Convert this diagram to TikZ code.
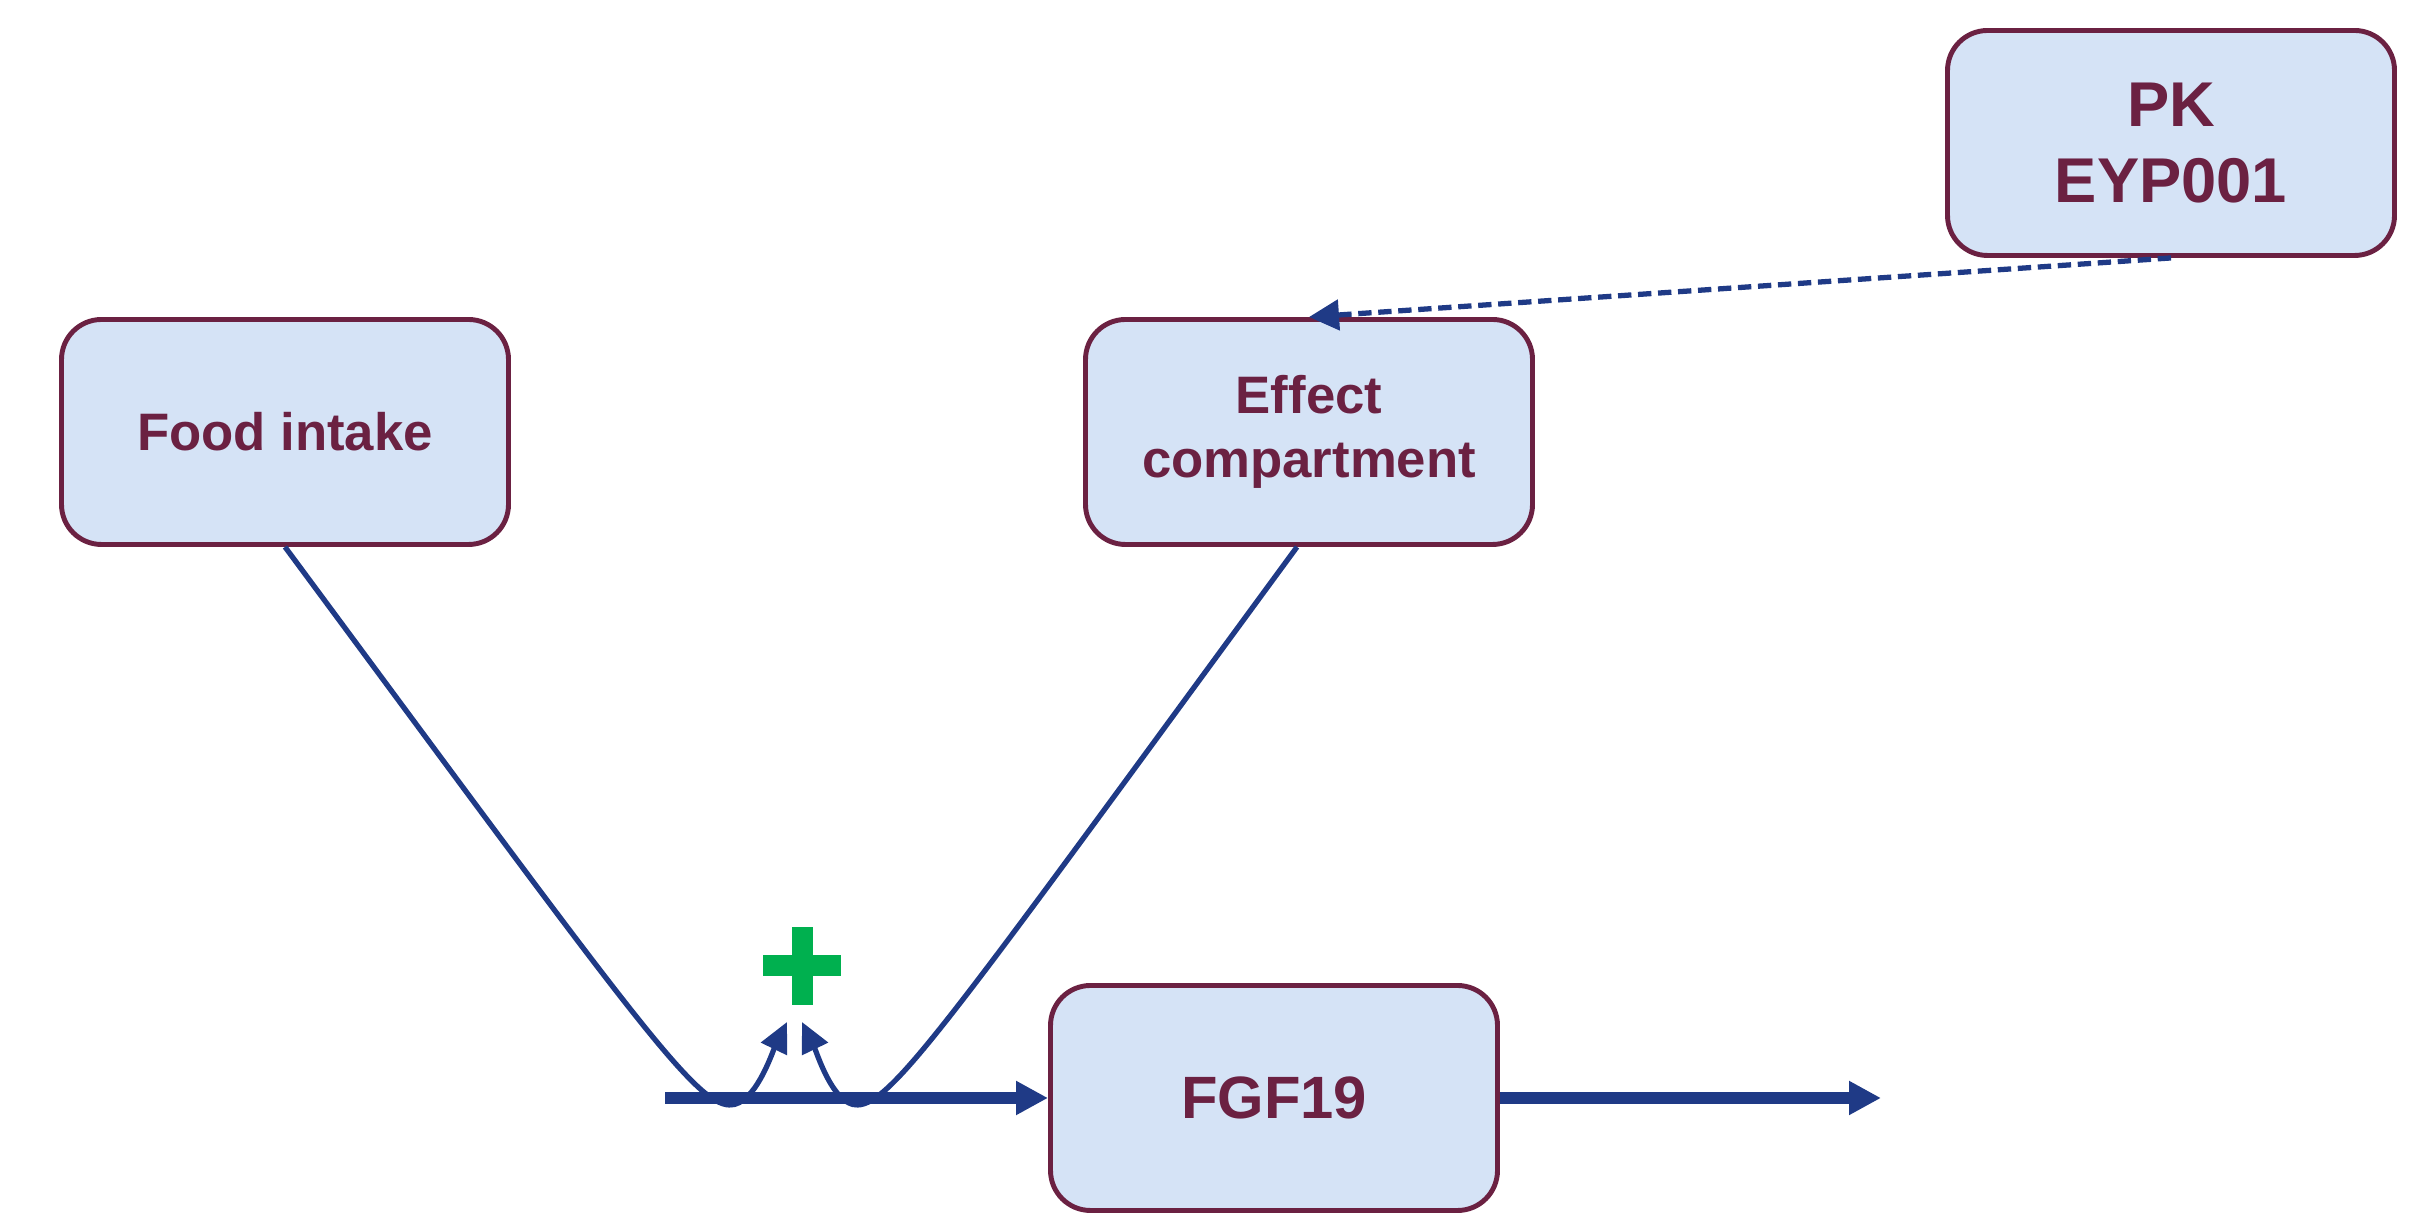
\documentclass[tikz,border=0pt]{standalone}
\usepackage{fontspec}
\setmainfont{Liberation Sans}
\usetikzlibrary{arrows.meta,positioning}
\definecolor{boxfill}{HTML}{D5E3F6}
\definecolor{boxline}{HTML}{6B2142}
\definecolor{flow}{HTML}{1F3A86}
\definecolor{plusg}{HTML}{00B04F}
\tikzset{
  >={Triangle[length=3.2mm,width=3.2mm]},
  cbox/.style={draw=boxline,fill=boxfill,rounded corners=4mm,line width=1.4pt,minimum width=4.47cm,minimum height=2.25cm,align=center,text=boxline,font=\bfseries\fontsize{15}{18}\selectfont},
  bigbox/.style={cbox,font=\bfseries\fontsize{18}{21.6}\selectfont},
  midbox/.style={cbox,font=\bfseries\fontsize{17}{20}\selectfont},
  mainarr/.style={->,draw=flow,line width=3.2pt},
  thinline/.style={draw=flow,line width=1.5pt},
  thinarr/.style={thinline,-{Triangle[length=3mm,width=2.8mm]}},
  pkarr/.style={thinline,dash pattern=on 3.8pt off 1.9pt,-{Triangle[length=3mm,width=3mm]}},
}
\begin{document}
\begin{tikzpicture}
\useasboundingbox (0,0) rectangle (24.13,12.13);
\node[cbox] (food) at (2.85,7.81) {Food intake};
\node[cbox] (eff) at (13.09,7.81) {Effect\\compartment};
\node[bigbox] (pk) at (21.71,10.70) {PK\\EYP001};
\node[midbox] (fgf) at (12.74,1.15) {FGF19};
\coordinate (in) at (6.65,1.15);
\coordinate (out) at (18.81,1.15);
\coordinate (dipL) at (7.30,1.08);
\coordinate (dipR) at (8.57,1.08);
\coordinate (tipL) at (7.87,1.91);
\coordinate (tipR) at (8.02,1.91);
\coordinate (plus) at (8.02,2.47);
\draw[mainarr] (in) -- (fgf.west);
\draw[mainarr] (fgf.east) -- (out);
\draw[thinline] (food.south) .. controls (6.3,2.0) and (6.95,1.08) .. (dipL);
\draw[thinarr] (dipL) .. controls (7.55,1.08) and (7.72,1.6) .. (tipL);
\draw[thinline] ([xshift=-1.2mm]eff.south) .. controls (9.55,2.0) and (8.92,1.08) .. (dipR);
\draw[thinarr] (dipR) .. controls (8.33,1.08) and (8.17,1.6) .. (tipR);
\fill[plusg] ([xshift=-3.9mm,yshift=-1.05mm]plus) rectangle ([xshift=3.9mm,yshift=1.05mm]plus);
\fill[plusg] ([xshift=-1.05mm,yshift=-3.9mm]plus) rectangle ([xshift=1.05mm,yshift=3.9mm]plus);
\draw[pkarr] (pk.south) -- (eff.north);
\end{tikzpicture}
\end{document}
